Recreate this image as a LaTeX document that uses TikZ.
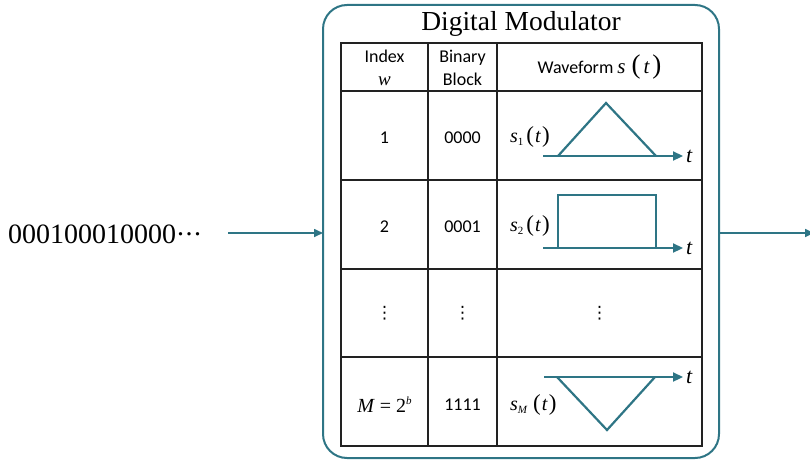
\documentclass[tikz,border=0pt]{standalone}
\usepackage{fontspec}
\setmainfont{Liberation Serif}
\newfontfamily\sansf{Carlito}
\newfontfamily\dvs{DejaVu Sans}
\usetikzlibrary{arrows.meta}
\definecolor{teal1}{HTML}{2E7585}
\definecolor{tline}{HTML}{222222}
\newcommand{\sig}[2][3pt]{{\fontsize{20}{20}\selectfont\itshape s}\raisebox{-3.5pt}{\fontsize{11}{11}\selectfont #2}\hspace{#1}{\fontsize{23}{23}\selectfont (}\hspace{1pt}{\fontsize{20}{20}\selectfont\itshape t}\hspace{1.5pt}{\fontsize{23}{23}\selectfont )}}
\newcommand{\sht}{{\rmfamily\fontsize{21}{21}\selectfont\itshape s\hspace{6pt}\fontsize{27}{27}\selectfont\upshape(\hspace{3pt}\fontsize{21}{21}\selectfont\itshape t\hspace{3pt}\fontsize{27}{27}\selectfont\upshape)}}
\begin{document}
\begin{tikzpicture}[x=1pt,y=-1pt,
  modbox/.style={draw=teal1, line width=2pt, rounded corners=24pt, minimum width=396pt, minimum height=453pt, inner sep=0pt, outer sep=0pt},
  arr/.style={draw=teal1, line width=1.6pt, -{Triangle[length=9pt,width=8pt]}},
  wave/.style={draw=teal1, line width=2.2pt},
  axisarr/.style={draw=teal1, line width=2.2pt, -{Triangle[length=10pt,width=9pt]}, shorten >=3pt},
  gridline/.style={draw=tline, line width=1.2pt},
  cell/.style={font=\sansf\fontsize{18}{22}\selectfont, inner sep=0pt, anchor=base},
  tlab/.style={font=\fontsize{22}{22}\selectfont\itshape, inner sep=0pt, anchor=west},
  slab/.style={inner sep=0pt, anchor=base west},
  vdot/.style={font=\dvs\fontsize{17}{17}\selectfont, inner sep=0pt}
]
\useasboundingbox (0,0) rectangle (810,460);
% outer box
\node[modbox] (mod) at (521,231.5) {};
\node[font=\fontsize{27.5}{28}\selectfont, inner sep=0pt, anchor=base] (title) at (521,31) {Digital Modulator};
% table grid
\draw[gridline] (341,43) rectangle (702,446);
\foreach \yy in {91,180,269,357} \draw[gridline] (341,\yy) -- (702,\yy);
\foreach \xx in {428,497} \draw[gridline] (\xx,43) -- (\xx,446);
% header
\node[cell] (h1a) at (384.5,63) {Index};
\node[cell, font=\fontsize{19}{19}\selectfont\itshape] (h1b) at (384.5,85) {w};
\node[cell] (h2a) at (462.5,63) {Binary};
\node[cell] (h2b) at (462.5,85) {Block};
\node[cell] (h3) at (599.5,73) {Waveform\hspace{4pt}\sht};
% row 1
\node[cell] (r1a) at (384.5,143) {1};
\node[cell] (r1b) at (462.5,143) {0000};
\node[slab] (s1) at (510,142) {\sig{1}};
\node[tlab] (t1) at (686,156) {t};
\coordinate (ax1) at (543,156);
\draw[axisarr] (ax1) -- (t1.west);
\draw[wave] (558,156) -- (606,103) -- (656,156);
% row 2
\node[cell] (r2a) at (384.5,232) {2};
\node[cell] (r2b) at (462.5,232) {0001};
\node[slab] (s2) at (510,231) {\sig{2}};
\node[tlab] (t2) at (686,248) {t};
\coordinate (ax2) at (543,248);
\draw[axisarr] (ax2) -- (t2.west);
\draw[wave] (558,248) -- (558,195) -- (656,195) -- (656,248);
% row 3
\node[vdot] (v1) at (384.5,313) {⋮};
\node[vdot] (v2) at (462.5,313) {⋮};
\node[vdot] (v3) at (599.5,313) {⋮};
% row 4
\node[inner sep=0pt, anchor=base] (r4a) at (384.5,412) {\fontsize{20}{20}\selectfont\itshape M\upshape\hspace{6pt}=\hspace{5pt}2\raisebox{8pt}{\fontsize{11}{11}\selectfont\itshape b}};
\node[cell] (r4b) at (462.5,410) {1111};
\node[slab] (sM) at (510,410) {\sig[6pt]{\itshape M}};
\node[tlab] (t4) at (686,377) {t};
\coordinate (ax4) at (544,377);
\draw[axisarr] (ax4) -- (t4.west);
\draw[wave] (557,377) -- (607,430) -- (655,377);
% input / output
\node[font=\fontsize{28}{28}\selectfont, inner sep=0pt, anchor=base west] (bits) at (8,243) {000100010000\hspace{1pt}\raisebox{7.5pt}{.\kern1.5pt.\kern1.5pt.}};
\coordinate (in0) at (228,233);
\draw[arr] (in0) -- (in0 -| mod.west);
\coordinate (out1) at (814,233);
\draw[arr] (out1 -| mod.east) -- (out1);
\end{tikzpicture}
\end{document}
